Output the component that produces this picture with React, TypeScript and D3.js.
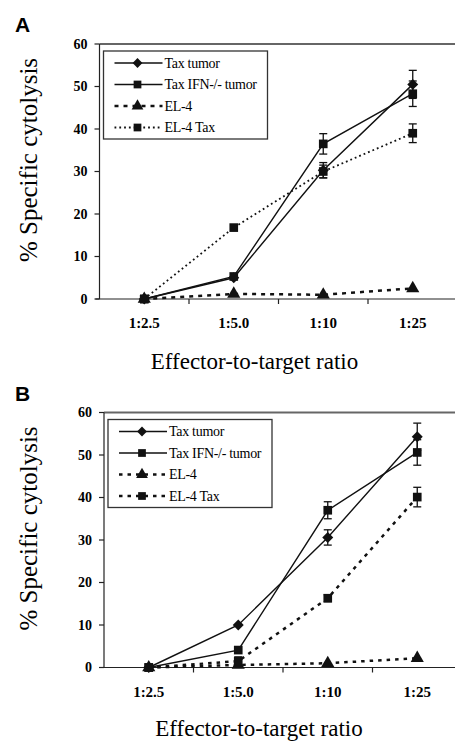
import * as React from "react"
import { scaleBand, scaleLinear, line, symbol, symbolSquare, symbolTriangle } from "d3"

const ratios = ["1:2.5", "1:5.0", "1:10", "1:25"]
const yTicks = [0, 10, 20, 30, 40, 50, 60]
const seriesNames = ["Tax tumor", "Tax IFN-/- tumor", "EL-4", "EL-4 Tax"]

// panel A
const taxTumorA = [0, 5.0, 30.3, 50.5]
const taxTumorErrA = [0, 0.5, 1.8, 3.3]
const taxIfnA = [0, 5.3, 36.5, 48.3]
const taxIfnErrA = [0, 0.5, 2.4, 3.0]
const el4A = [0, 1.2, 1.0, 2.5]
const el4ErrA = [0, 0, 0, 0.4]
const el4TaxA = [0, 16.8, 30.0, 39.0]
const el4TaxErrA = [0, 0.5, 1.5, 2.2]

// panel B
const taxTumorB = [0, 10.0, 30.6, 54.3]
const taxTumorErrB = [0, 0.5, 1.8, 3.2]
const taxIfnB = [0, 4.1, 37.0, 50.6]
const taxIfnErrB = [0, 0.5, 2.0, 3.0]
const el4B = [0, 0.6, 1.0, 2.2]
const el4ErrB = [0, 0, 0, 0.3]
const el4TaxB = [0, 1.5, 16.3, 40.1]
const el4TaxErrB = [0, 1.0, 0.8, 2.3]

const serif = "'Liberation Serif', 'Times New Roman', serif"

type Series = { name: string; values: number[]; errs: number[]; shape: string; dash: string; width: number }

// diamond = square turned 45deg
const markerPath = (shape: string, size: number) =>
  symbol(shape === "triangle" ? symbolTriangle : symbolSquare, shape === "diamond" ? size * 0.8 : size)() as string

function Panel({ letter, top, x0, titleY, series }: { letter: string; top: number; x0: number; titleY: number; series: Series[] }) {
  const yTop = top + 44
  const yZero = top + 299
  const x = scaleBand<string>().domain(ratios).range([x0, x0 + 358])
  const y = scaleLinear().domain([0, 60]).range([yZero, yTop])
  const cx = (i: number) => (x(ratios[i]) as number) + x.bandwidth() / 2
  const path = line<number>().x((_, i) => cx(i)).y((d) => y(d))

  const legX = x0 + 4
  const legY = top + 51
  return (
    <g>
      <text x={15} y={top + 32} fontFamily="'Liberation Sans', Arial, sans-serif" fontWeight="bold" fontSize={21}>
        {letter}
      </text>
      {/* axes */}
      <line x1={x0} x2={458} y1={yTop} y2={yTop} stroke="#666" strokeWidth={2} />
      <line x1={x0} x2={x0} y1={yTop} y2={yZero} stroke="#222" strokeWidth={1.2} />
      <line x1={x0 - 4} x2={458} y1={yZero} y2={yZero} stroke="#222" strokeWidth={1.2} />
      {yTicks.map((t) => (
        <g key={t}>
          <line x1={x0 - 5} x2={x0} y1={y(t)} y2={y(t)} stroke="#222" strokeWidth={1.2} />
          <text x={x0 - 12} y={y(t)} dy="0.35em" textAnchor="end" fontFamily={serif} fontWeight="bold" fontSize={14}>
            {t}
          </text>
        </g>
      ))}
      {ratios.slice(1).map((r) => (
        <line key={r} x1={x(r)} x2={x(r)} y1={yZero} y2={yZero + 5} stroke="#222" strokeWidth={1.2} />
      ))}
      {ratios.map((r, i) => (
        <text key={r} x={cx(i)} y={yZero + 24} dy="0.35em" textAnchor="middle" fontFamily={serif} fontWeight="bold" fontSize={15}>
          {r}
        </text>
      ))}
      <text x={x0 + 155} y={titleY} textAnchor="middle" fontFamily={serif} fontSize={23}>
        Effector-to-target ratio
      </text>
      <text
        transform={`translate(28,${top + 160}) rotate(-90)`}
        dy="0.35em"
        textAnchor="middle"
        fontFamily={serif}
        fontSize={25}
      >
        % Specific cytolysis
      </text>
      {/* series */}
      {series.map((s) => (
        <g key={s.name}>
          <path d={path(s.values) as string} fill="none" stroke="#111" strokeWidth={s.width} strokeDasharray={s.dash} />
          {s.values.map((v, i) =>
            s.errs[i] > 0.6 ? (
              <g key={i} stroke="#111" strokeWidth={1.3}>
                <line x1={cx(i)} x2={cx(i)} y1={y(v - s.errs[i])} y2={y(v + s.errs[i])} />
                <line x1={cx(i) - 4} x2={cx(i) + 4} y1={y(v - s.errs[i])} y2={y(v - s.errs[i])} />
                <line x1={cx(i) - 4} x2={cx(i) + 4} y1={y(v + s.errs[i])} y2={y(v + s.errs[i])} />
              </g>
            ) : null
          )}
          {s.values.map((v, i) => (
            <path
              key={i}
              transform={`translate(${cx(i)},${y(v)}) rotate(${s.shape === "diamond" ? 45 : 0})`}
              d={markerPath(s.shape, 75)}
              fill="#111"
            />
          ))}
        </g>
      ))}
      {/* legend */}
      <rect x={legX} y={legY} width={164} height={88} fill="white" stroke="#333" strokeWidth={1.3} />
      {series.map((s, i) => {
        const ly = legY + 12 + i * 21.5
        return (
          <g key={s.name}>
            <line x1={legX + 11} x2={legX + 59} y1={ly} y2={ly} stroke="#111" strokeWidth={s.width} strokeDasharray={s.dash} />
            <path
              transform={`translate(${legX + 34},${ly}) rotate(${s.shape === "diamond" ? 45 : 0})`}
              d={markerPath(s.shape, 60)}
              fill="#111"
            />
            <text x={legX + 61} y={ly} dy="0.35em" fontFamily={serif} fontSize={14} letterSpacing={-0.3}>
              {s.name}
            </text>
          </g>
        )
      })}
    </g>
  )
}

export default function App() {
  const seriesA: Series[] = [
    { name: seriesNames[0], values: taxTumorA, errs: taxTumorErrA, shape: "diamond", dash: "", width: 1.4 },
    { name: seriesNames[1], values: taxIfnA, errs: taxIfnErrA, shape: "square", dash: "", width: 1.4 },
    { name: seriesNames[2], values: el4A, errs: el4ErrA, shape: "triangle", dash: "4 5", width: 2.5 },
    { name: seriesNames[3], values: el4TaxA, errs: el4TaxErrA, shape: "square", dash: "1.8 3", width: 1.8 },
  ]
  const seriesB: Series[] = [
    { name: seriesNames[0], values: taxTumorB, errs: taxTumorErrB, shape: "diamond", dash: "", width: 1.4 },
    { name: seriesNames[1], values: taxIfnB, errs: taxIfnErrB, shape: "square", dash: "", width: 1.4 },
    { name: seriesNames[2], values: el4B, errs: el4ErrB, shape: "triangle", dash: "3.5 5", width: 2.5 },
    { name: seriesNames[3], values: el4TaxB, errs: el4TaxErrB, shape: "square", dash: "3.5 5", width: 2.5 },
  ]
  return (
    <svg width={455} height={742} style={{ position: "absolute", left: 0, top: 0, background: "white" }}>
      <rect width={455} height={742} fill="white" />
      <Panel letter="A" top={0} x0={99.5} titleY={369} series={seriesA} />
      <Panel letter="B" top={368.5} x0={104} titleY={736} series={seriesB} />
    </svg>
  )
}
